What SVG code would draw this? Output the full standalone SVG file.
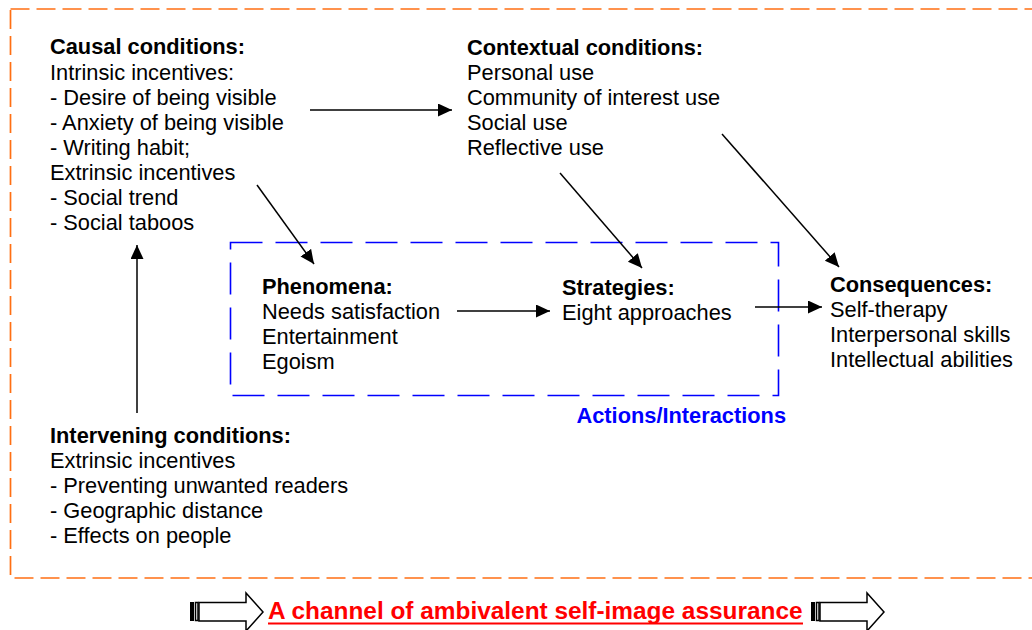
<svg xmlns="http://www.w3.org/2000/svg" width="1032" height="630" viewBox="0 0 1032 630">
<style>
text{font-family:"Liberation Sans",Arial,sans-serif;font-size:21.8px;fill:#000}
.b{font-weight:bold}
.conn line{stroke:#000;stroke-width:1.5;marker-end:url(#ah)}
.blk{fill:#fff;stroke:#000;stroke-width:1.5}
</style>
<defs>
<marker id="ah" markerUnits="userSpaceOnUse" markerWidth="15" markerHeight="14" refX="14" refY="6.5" orient="auto">
<path d="M0,0 L14,6.5 L0,13 Z" fill="#000"/>
</marker>
</defs>
<rect width="1032" height="630" fill="#fff"/>
<rect id="frame" x="10.5" y="9" width="1040" height="569" fill="none" stroke="#FF6F13" stroke-width="1.7" stroke-dasharray="19,7"/>
<g id="actions">
<rect x="230.5" y="242.5" width="548" height="153" fill="none" stroke="#0000FF" stroke-width="1.6" stroke-dasharray="32,13"/>
<text x="786" y="423" class="b" text-anchor="end" style="fill:#0000FF">Actions/Interactions</text>
</g>
<g id="causal">
<text x="50" y="54" class="b">Causal conditions:</text>
<text x="50" y="80">Intrinsic incentives:</text>
<text x="50" y="105">- Desire of being visible</text>
<text x="50" y="130">- Anxiety of being visible</text>
<text x="50" y="155">- Writing habit;</text>
<text x="50" y="180">Extrinsic incentives</text>
<text x="50" y="205">- Social trend</text>
<text x="50" y="230">- Social taboos</text>
</g>
<g id="contextual">
<text x="467" y="55" class="b">Contextual conditions:</text>
<text x="467" y="80">Personal use</text>
<text x="467" y="105">Community of interest use</text>
<text x="467" y="130">Social use</text>
<text x="467" y="155">Reflective use</text>
</g>
<g id="phenomena">
<text x="262" y="294" class="b">Phenomena:</text>
<text x="262" y="319">Needs satisfaction</text>
<text x="262" y="344">Entertainment</text>
<text x="262" y="369">Egoism</text>
</g>
<g id="strategies">
<text x="562" y="295" class="b">Strategies:</text>
<text x="562" y="320">Eight approaches</text>
</g>
<g id="consequences">
<text x="830" y="292" class="b">Consequences:</text>
<text x="830" y="317">Self-therapy</text>
<text x="830" y="342">Interpersonal skills</text>
<text x="830" y="367">Intellectual abilities</text>
</g>
<g id="intervening">
<text x="50" y="443" class="b">Intervening conditions:</text>
<text x="50" y="468">Extrinsic incentives</text>
<text x="50" y="493">- Preventing unwanted readers</text>
<text x="50" y="518">- Geographic distance</text>
<text x="50" y="543">- Effects on people</text>
</g>
<g class="conn" id="connectors">
<line x1="310" y1="110" x2="452" y2="110"/>
<line x1="257" y1="185" x2="314" y2="264"/>
<line x1="560" y1="173" x2="642" y2="268"/>
<line x1="722" y1="134" x2="839" y2="267"/>
<line x1="457" y1="311" x2="550" y2="311"/>
<line x1="755" y1="307" x2="822" y2="307"/>
<line x1="137" y1="413" x2="137" y2="245"/>
</g>
<g id="footer">
<g id="arrowL">
<rect x="190" y="602" width="4" height="19" fill="#000"/>
<rect x="195.5" y="602.5" width="2.5" height="18" class="blk"/>
<path d="M199,602.5 H246 V593 L263,612 L246,631 V621 H199 Z" class="blk"/>
</g>
<text x="268" y="619" class="b" style="fill:#FF0000;font-size:24.4px">A channel of ambivalent self-image assurance</text>
<line x1="268" y1="623.5" x2="803" y2="623.5" stroke="#FF0000" stroke-width="2"/>
<g id="arrowR" transform="translate(621,0)">
<rect x="190" y="602" width="4" height="19" fill="#000"/>
<rect x="195.5" y="602.5" width="2.5" height="18" class="blk"/>
<path d="M199,602.5 H246 V593 L263,612 L246,631 V621 H199 Z" class="blk"/>
</g>
</g>
</svg>
